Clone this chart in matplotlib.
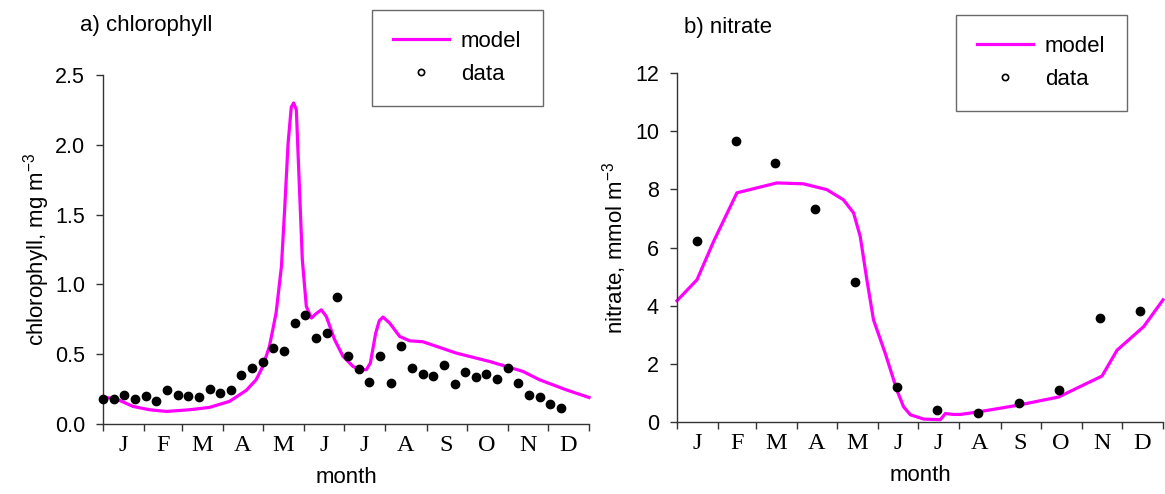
import matplotlib
matplotlib.use('Agg')
import matplotlib.pyplot as plt
from matplotlib.lines import Line2D
from matplotlib.ticker import FixedLocator, NullFormatter, FixedFormatter
import numpy as np

plt.rcParams['font.family'] = ['Liberation Sans', 'DejaVu Sans']
plt.rcParams['mathtext.fontset'] = 'custom'
plt.rcParams['mathtext.rm'] = 'Liberation Sans'
plt.rcParams['mathtext.it'] = 'Liberation Sans'
plt.rcParams['mathtext.bf'] = 'Liberation Sans'

# ---------------- data ----------------
month_letters = ['J', 'F', 'M', 'A', 'M', 'J', 'J', 'A', 'S', 'O', 'N', 'D']
month_lengths = [31, 28, 31, 30, 31, 30, 31, 31, 30, 31, 30, 31]

# a) chlorophyll (mg m-3), 8-day data
chl_data_day = [0, 8, 16, 24, 32, 40, 48, 56, 64, 72, 80, 88, 96, 104, 112, 120,
                128, 136, 144, 152, 160, 168, 176, 184, 192, 200, 208, 216, 224,
                232, 240, 248, 256, 264, 272, 280, 288, 296, 304, 312, 320, 328,
                336, 344]
chl_data = [0.18, 0.18, 0.205, 0.18, 0.20, 0.167, 0.243, 0.207, 0.203, 0.19,
            0.253, 0.219, 0.243, 0.351, 0.398, 0.441, 0.541, 0.525, 0.725, 0.78,
            0.615, 0.651, 0.909, 0.487, 0.396, 0.30, 0.487, 0.296, 0.56, 0.403,
            0.355, 0.341, 0.42, 0.284, 0.372, 0.336, 0.36, 0.322, 0.398, 0.296,
            0.21, 0.195, 0.141, 0.112]

chl_model_day = [0, 8, 12.5, 22.5, 35, 47.6, 65, 80, 95, 107.6, 115, 120, 125,
                 130, 134, 136.4, 139, 141.4, 143.2, 145.2, 147.2, 149.7, 152.7,
                 156.5, 160, 164, 167.7, 174, 180.3, 187.8, 193, 197.8, 200.8,
                 204.8, 207.5, 210.3, 215.3, 222.8, 230.3, 240.3, 265.3, 290.3,
                 315.3, 327.8, 347.8, 365]
chl_model = [0.19, 0.185, 0.169, 0.126, 0.102, 0.090, 0.102, 0.119, 0.162, 0.241,
             0.317, 0.412, 0.556, 0.795, 1.128, 1.534, 2.01, 2.27, 2.30, 2.25,
             1.77, 1.176, 0.842, 0.759, 0.79, 0.818, 0.77, 0.603, 0.484, 0.412,
             0.39, 0.389, 0.437, 0.651, 0.74, 0.766, 0.723, 0.627, 0.596, 0.589,
             0.508, 0.448, 0.377, 0.317, 0.245, 0.19]

# b) nitrate (mmol m-3), monthly data
no3_data_day = [15, 44, 73.5, 104, 134, 165, 195, 226, 257, 287, 318, 348]
no3_data = [6.23, 9.67, 8.90, 7.31, 4.81, 1.19, 0.40, 0.32, 0.67, 1.09, 3.56, 3.82]

no3_model_day = [0, 15, 27.5, 45, 75, 95, 112.5, 125, 132.6, 137.6, 142.6, 147.6,
                 156.4, 165.2, 170.2, 175.2, 185.3, 197.8, 201.5, 207.8, 212.8,
                 225.3, 256.5, 286.6, 319.2, 330.5, 350.5, 365]
no3_model = [4.17, 4.89, 6.21, 7.88, 8.22, 8.19, 7.99, 7.64, 7.19, 6.38, 4.89,
             3.51, 2.36, 1.09, 0.52, 0.25, 0.10, 0.08, 0.29, 0.26, 0.26, 0.34,
             0.58, 0.86, 1.58, 2.47, 3.28, 4.20]

# ---------------- figure ----------------
W, H = 1165, 494
fig = plt.figure(figsize=(W / 100, H / 100), dpi=100)

def px_axes(x0, x1, ytop, ybot):
    return fig.add_axes([x0 / W, 1 - ybot / H, (x1 - x0) / W, (ybot - ytop) / H])

ax1 = px_axes(103, 589, 75, 424)
ax2 = px_axes(677, 1163, 73, 422)

MAG = '#FF00FF'
FS = 16

bounds = np.concatenate([[0], np.cumsum(month_lengths)])
mids = (bounds[:-1] + bounds[1:]) / 2

def style(ax, ymax, yticks, yfmt):
    ax.set_xlim(0, 365)
    ax.set_ylim(0, ymax)
    for s in ['top', 'right']:
        ax.spines[s].set_visible(False)
    for s in ['left', 'bottom']:
        ax.spines[s].set_linewidth(1.0)
        ax.spines[s].set_color('#333333')
    ax.xaxis.set_major_locator(FixedLocator(bounds))
    ax.xaxis.set_major_formatter(NullFormatter())
    ax.xaxis.set_minor_locator(FixedLocator(mids))
    ax.xaxis.set_minor_formatter(FixedFormatter(month_letters))
    ax.tick_params(axis='x', which='major', direction='out', length=5, width=1,
                   color='#333333')
    ax.tick_params(axis='x', which='minor', length=0, pad=8, labelsize=17.5)
    for lab in ax.xaxis.get_minorticklabels():
        lab.set_family(['Liberation Serif', 'DejaVu Serif'])
    ax.set_yticks(yticks)
    ax.set_yticklabels([yfmt.format(v) for v in yticks])
    ax.tick_params(axis='y', direction='out', length=5, width=1, pad=8,
                   labelsize=15.5, color='#333333')
    ax.set_xlabel('month', fontsize=FS, labelpad=8)

style(ax1, 2.5, [0, 0.5, 1.0, 1.5, 2.0, 2.5], '{:.1f}')
style(ax2, 12, [0, 2, 4, 6, 8, 10, 12], '{:.0f}')

ax1.plot(chl_model_day, chl_model, color=MAG, lw=2.3, zorder=2, clip_on=False)
ax1.plot(chl_data_day, chl_data, 'o', color='black', ms=6, zorder=3, clip_on=False)
ax2.plot(no3_model_day, no3_model, color=MAG, lw=2.3, zorder=2, clip_on=False)
ax2.plot(no3_data_day, no3_data, 'o', color='black', ms=6, zorder=3, clip_on=False)

ax1.set_ylabel('chlorophyll, mg m$^{-3}$', fontsize=FS)
ax2.set_ylabel('nitrate, mmol m$^{-3}$', fontsize=FS)
ax1.yaxis.set_label_coords(-0.105, 0.5)
ax2.yaxis.set_label_coords(-0.099, 0.5)

fig.text(80 / W, 1 - 26 / H, 'a) chlorophyll', fontsize=FS, va='center', ha='left')
fig.text(684 / W, 1 - 28 / H, 'b) nitrate', fontsize=FS, va='center', ha='left')

handles = [Line2D([], [], color=MAG, lw=2.3),
           Line2D([], [], marker='o', ls='none', mfc='white', mec='black',
                  mew=1.2, ms=4.5)]
labels = ['model', 'data']

def add_leg(ax, x, y):
    leg = ax.legend(handles, labels, loc='upper left', bbox_to_anchor=(x / W, 1 - y / H),
                    bbox_transform=fig.transFigure, fontsize=FS, frameon=True,
                    fancybox=False, borderaxespad=0, borderpad=0.95,
                    handlelength=2.5, handletextpad=0.55, labelspacing=0.52)
    fr = leg.get_frame()
    fr.set_edgecolor('#444444')
    fr.set_linewidth(1.0)
    fr.set_facecolor('white')

add_leg(ax1, 372, 10)
add_leg(ax2, 956, 15)

fig.savefig('out.png', dpi=100)
